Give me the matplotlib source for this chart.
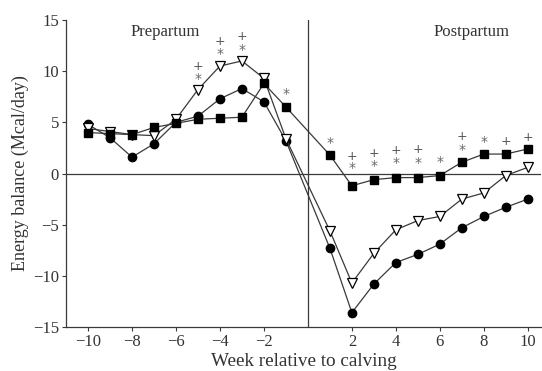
import numpy as np
import matplotlib
matplotlib.use("Agg")
import matplotlib.pyplot as plt

# Weeks relative to calving (no week 0)
weeks = [-10, -9, -8, -7, -6, -5, -4, -3, -2, -1,
         1, 2, 3, 4, 5, 6, 7, 8, 9, 10]

# Energy balance (Mcal/day)
circles = [4.8, 3.5, 1.6, 2.9, 5.0, 5.6, 7.3, 8.3, 7.0, 3.2,
           -7.3, -13.6, -10.8, -8.7, -7.9, -6.9, -5.3, -4.2, -3.3, -2.5]
triangles = [4.4, 4.1, 3.8, 3.7, 5.3, 8.2, 10.5, 11.0, 9.3, 3.4,
             -5.6, -10.7, -7.8, -5.5, -4.6, -4.2, -2.5, -1.9, -0.2, 0.6]
squares = [4.0, 3.9, 3.8, 4.5, 4.9, 5.3, 5.4, 5.5, 8.8, 6.5,
           1.8, -1.2, -0.6, -0.4, -0.4, -0.2, 1.1, 1.9, 1.9, 2.4]

# significance marks (week, y)
star_weeks = [-5, -4, -3, -1, 1, 2, 3, 4, 5, 6, 7, 8]
star_y = [9.2, 11.7, 12.1, 7.8, 3.0, 0.5, 0.7, 1.0, 1.0, 1.1, 2.3, 3.1]
plus_weeks = [-5, -4, -3, 2, 3, 4, 5, 7, 9, 10]
plus_y = [10.5, 12.9, 13.4, 1.7, 2.0, 2.2, 2.3, 3.6, 3.1, 3.5]

xticks = [-10, -8, -6, -4, -2, 2, 4, 6, 8, 10]
yticks = [-15, -10, -5, 0, 5, 10, 15]

plt.rcParams['font.family'] = ['Liberation Serif', 'DejaVu Serif']

fig = plt.figure(figsize=(5.42, 3.71), dpi=100)
ax = fig.add_axes([66 / 542, 44 / 371, 475 / 542, 307 / 371])

line_col = '#3a3a3a'
ax.axhline(0, color=line_col, lw=0.9, zorder=1)
ax.axvline(0, color=line_col, lw=0.9, zorder=1)

ax.plot(weeks, circles, color=line_col, lw=0.9, marker='o', ms=6,
        mfc='black', mec='black', zorder=3)
ax.plot(weeks, triangles, color=line_col, lw=0.9, marker='v', ms=7,
        mfc='white', mec='black', mew=0.9, zorder=3)
ax.plot(weeks, squares, color=line_col, lw=0.9, marker='s', ms=5.5,
        mfc='black', mec='black', zorder=4)

# asterisks and plus signs marking significant differences
for w, y in zip(star_weeks, star_y):
    ax.text(w, y, '*', ha='center', va='center', fontsize=10, color='#6a6a6a',
            family='DejaVu Sans')
for w, y in zip(plus_weeks, plus_y):
    ax.text(w, y, '+', ha='center', va='center', fontsize=9, color='#555555',
            family='DejaVu Sans')

ax.text(-6.5, 13.8, 'Prepartum', ha='center', va='center', fontsize=12, color='#333333')
ax.text(7.45, 13.8, 'Postpartum', ha='center', va='center', fontsize=12, color='#333333')

ax.set_xlim(-11, 10.6)
ax.set_ylim(-15, 15)
ax.set_xticks(xticks)
ax.set_xticklabels(['\u2212' + str(-t) if t < 0 else str(t) for t in xticks])
ax.set_yticks(yticks)
ax.set_yticklabels(['\u2212' + str(-t) if t < 0 else str(t) for t in yticks])
ax.tick_params(direction='out', length=3, width=0.8, colors=line_col,
               labelsize=12, labelcolor='#333333', pad=2)

for side in ['top', 'right']:
    ax.spines[side].set_visible(False)
for side in ['left', 'bottom']:
    ax.spines[side].set_color(line_col)
    ax.spines[side].set_linewidth(0.9)

ax.set_xlabel('Week relative to calving', fontsize=13.8, color='#333333', labelpad=2)
ax.set_ylabel('Energy balance (Mcal/day)', fontsize=13, color='#333333', labelpad=3)

fig.savefig('out.png', dpi=100)
